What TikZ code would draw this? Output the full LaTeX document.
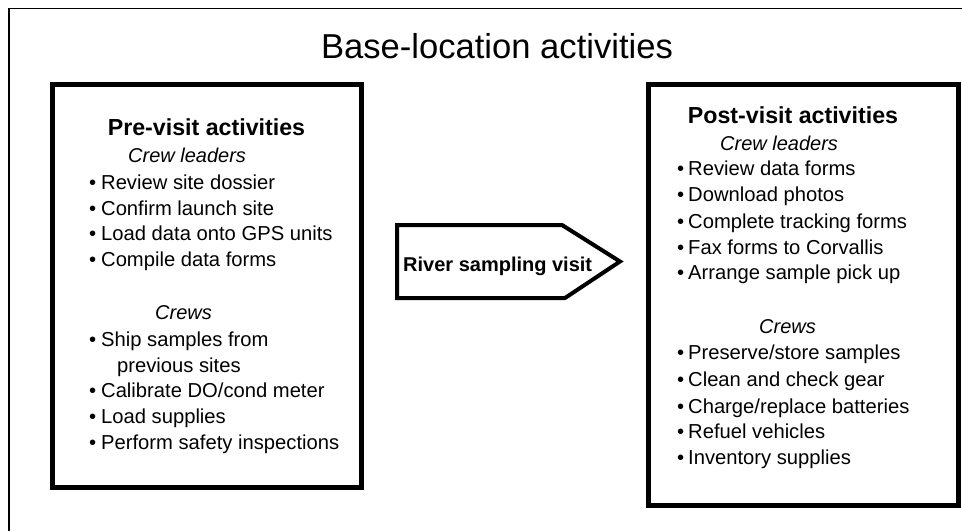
\documentclass[tikz,border=0pt]{standalone}
\usepackage{fontspec}
\setmainfont{Liberation Sans}
\begin{document}
\begin{tikzpicture}[x=1pt,y=-1pt,
  box/.style={draw, line width=5pt, outer sep=0pt, inner sep=0pt},
  head/.style={anchor=base, font=\fontsize{23.2}{27}\selectfont\bfseries, inner sep=0pt},
  sub/.style={anchor=base west, font=\fontsize{20}{24}\selectfont\itshape, inner sep=0pt},
  item/.style={anchor=base west, font=\fontsize{20.2}{24}\selectfont, inner sep=0pt},
  frame/.style={line width=1.5pt},
  arrowshape/.style={draw, line width=4pt, line join=miter},
]
\useasboundingbox (0,0) rectangle (962,531);
\coordinate (fa) at (9,531);
\coordinate (fb) at (9,8.5);
\coordinate (fc) at (962,8.5);
\draw[frame] (fa) -- (fb) -- (fc);
\node[anchor=base, font=\fontsize{34.6}{40}\selectfont, inner sep=0pt] (title) at (497,58) {Base-location activities};

% left box
\node[box, minimum width=309pt, minimum height=403pt] (pre) at (207,286) {};
\node[head] (preh) at (206.5,135) {Pre-visit activities};
\node[sub] (precl) at (128,162) {Crew leaders};
\foreach \y/\t [count=\i] in {189/{Review site dossier}, 215/{Confirm launch site}, 240/{Load data onto GPS units}, 266/{Compile data forms}}
  \node[item] (pa\i) at (89,\y) {\makebox[12pt][l]{•}\t};
\node[sub] (precr) at (155,319) {Crews};
\foreach \y/\t [count=\i] in {346/{Ship samples from}, 397/{Calibrate DO/cond meter}, 423/{Load supplies}, 449/{Perform safety inspections}}
  \node[item] (pb\i) at (89,\y) {\makebox[12pt][l]{•}\t};
\node[item] (pb0) at (117,372) {previous sites};

% arrow
\coordinate (a1) at (397,225);
\coordinate (a2) at (562,225);
\coordinate (a3) at (620,261.5);
\coordinate (a4) at (565,298);
\coordinate (a5) at (397,298);
\draw[arrowshape] (a1) -- (a2) -- (a3) -- (a4) -- (a5) -- cycle;
\node[anchor=base west, font=\fontsize{20}{24}\selectfont\bfseries, inner sep=0pt] (visit) at (403,271) {River sampling visit};

% right box
\node[box, minimum width=310pt, minimum height=421pt] (post) at (803.5,295) {};
\node[head] (posth) at (793,123) {Post-visit activities};
\node[sub] (postcl) at (720,150) {Crew leaders};
\foreach \y/\t [count=\i] in {175/{Review data forms}, 201/{Download photos}, 228/{Complete tracking forms}, 254/{Fax forms to Corvallis}, 279/{Arrange sample pick up}}
  \node[item] (qa\i) at (677,\y) {\makebox[11pt][l]{•}\t};
\node[sub] (postcr) at (759,333) {Crews};
\foreach \y/\t [count=\i] in {359/{Preserve/store samples}, 386/{Clean and check gear}, 413/{Charge/replace batteries}, 438/{Refuel vehicles}, 464/{Inventory supplies}}
  \node[item] (qb\i) at (677,\y) {\makebox[11pt][l]{•}\t};
\end{tikzpicture}
\end{document}
